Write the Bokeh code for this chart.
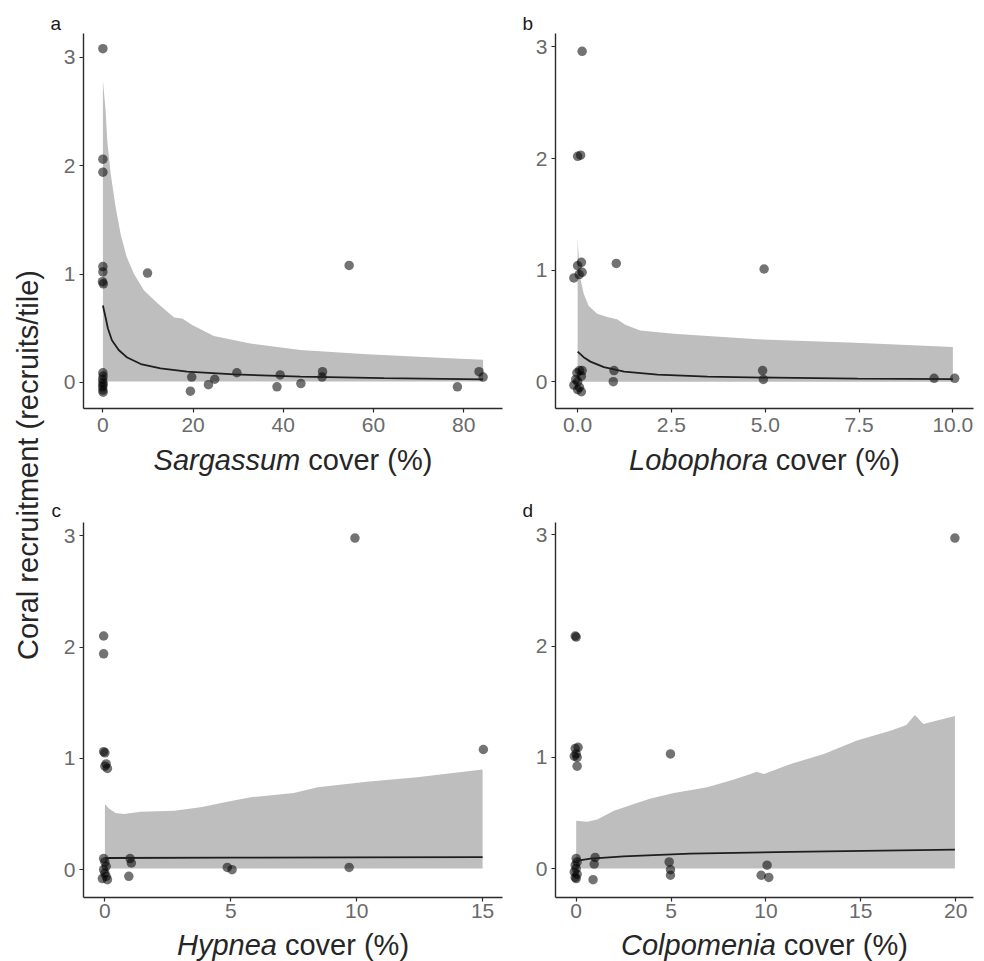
import math
from bokeh.plotting import figure
from bokeh.models import Label, FixedTicker, NumeralTickFormatter
from bokeh.layouts import row, column
from bokeh.embed import file_html
from bokeh.resources import INLINE

FONT = "Liberation Sans"

# ---------------- data ----------------
# (a) Sargassum
sarg_x = [0.0, 0.0, 0.0, 0.0, 0.0, -0.1, 0.1,
          0.0, 0.05, -0.05, 0.0, 0.05, -0.05, 0.0, 0.05,
          9.9, 54.6, 19.7, 19.4, 23.4, 24.8, 29.7, 39.3, 38.6, 43.9, 48.7, 48.6, 78.6, 83.4, 84.3]
sarg_y = [3.08, 2.06, 1.94, 1.07, 1.02, 0.93, 0.91,
          0.09, 0.06, 0.03, 0.0, -0.02, -0.04, -0.07, -0.09,
          1.01, 1.08, 0.05, -0.08, -0.02, 0.03, 0.09, 0.07, -0.04, -0.01, 0.10, 0.05, -0.04, 0.10, 0.05]
sarg_rib_x = [0.0, 0.6, 0.97, 1.71, 2.82, 3.93, 5.26, 6.89, 9.1, 12.1, 15.8, 17.6, 19.8, 24.6, 32.7, 43.8, 58.6, 73.4, 84.3]
sarg_rib_hi = [2.79, 2.51, 2.23, 1.93, 1.62, 1.37, 1.16, 1.00, 0.85, 0.73, 0.60, 0.59, 0.53, 0.43, 0.36, 0.30, 0.26, 0.23, 0.21]
sarg_rib_lo = [0.01] * len(sarg_rib_x)
sarg_fit_x = [0.0, 0.6, 1.1, 2.0, 3.5, 5.4, 8.4, 12.8, 18.7, 29.1, 43.8, 62.3, 84.3]
sarg_fit_y = [0.71, 0.60, 0.50, 0.39, 0.30, 0.23, 0.17, 0.13, 0.10, 0.074, 0.055, 0.04, 0.028]

# (b) Lobophora
lobo_x = [0.12, 0.0, 0.08, -0.1, 0.0, 0.1, 0.04, 0.12,
          0.05, 0.12, -0.02, 0.1, -0.05, 0.0, -0.1, 0.05, 0.1, 0.0,
          1.03, 0.97, 0.95, 4.97, 4.93, 4.95, 9.5, 10.05]
lobo_y = [2.96, 2.02, 2.03, 0.93, 1.04, 1.07, 0.96, 0.98,
          0.10, 0.10, 0.08, 0.05, 0.02, 0.0, -0.03, -0.05, -0.09, -0.07,
          1.06, 0.10, 0.0, 1.01, 0.10, 0.02, 0.03, 0.03]
lobo_rib_x = [0.0, 0.036, 0.07, 0.16, 0.29, 0.52, 0.79, 1.05, 1.27, 1.67, 2.56, 4.8, 7.4, 10.0]
lobo_rib_hi = [1.28, 1.08, 0.93, 0.79, 0.68, 0.61, 0.58, 0.56, 0.51, 0.46, 0.43, 0.38, 0.35, 0.31]
lobo_rib_lo = [0.0] * len(lobo_rib_x)
lobo_fit_x = [0.0, 0.16, 0.34, 0.7, 1.24, 2.13, 3.46, 5.24, 7.46, 10.0]
lobo_fit_y = [0.27, 0.22, 0.18, 0.13, 0.09, 0.063, 0.045, 0.036, 0.027, 0.024]

# (c) Hypnea
hyp_x = [9.93, -0.05, -0.05, -0.05, 0.0, 0.05, 0.0, 0.1,
         -0.05, 0.0, 0.05, -0.05, 0.0, 0.05, -0.1, 0.1,
         1.0, 1.05, 0.95, 4.86, 5.05, 9.7, 15.03]
hyp_y = [2.98, 2.10, 1.94, 1.06, 1.05, 0.95, 0.93, 0.91,
         0.10, 0.07, 0.03, 0.0, -0.03, -0.06, -0.08, -0.09,
         0.10, 0.06, -0.06, 0.02, 0.0, 0.02, 1.08]
hyp_rib_x = [0.0, 0.16, 0.42, 0.76, 1.42, 2.75, 3.8, 4.86, 5.79, 7.5, 8.45, 10.4, 12.4, 15.0]
hyp_rib_hi = [0.59, 0.55, 0.51, 0.50, 0.52, 0.53, 0.56, 0.61, 0.65, 0.69, 0.74, 0.79, 0.83, 0.90]
hyp_rib_lo = [0.01] * len(hyp_rib_x)
hyp_fit_x = [0.0, 5.0, 10.0, 15.0]
hyp_fit_y = [0.105, 0.108, 0.110, 0.113]

# (d) Colpomenia
colp_x = [19.96, -0.05, 0.0, -0.05, 0.1, 0.0, -0.1, 0.05, 0.05,
          0.0, 0.05, -0.05, 0.0, -0.1, 0.05, -0.05, 0.0,
          1.0, 0.95, 0.89, 4.9, 4.97, 4.97, 10.06, 9.75, 10.15, 4.97]
colp_y = [2.97, 2.09, 2.08, 1.08, 1.09, 1.03, 1.01, 1.0, 0.92,
          0.09, 0.06, 0.03, 0.0, -0.03, -0.05, -0.08, -0.09,
          0.10, 0.04, -0.10, 0.06, -0.01, -0.06, 0.03, -0.06, -0.08, 1.03]
colp_rib_x = [0.0, 0.58, 1.11, 1.99, 3.04, 3.92, 5.15, 6.9, 8.1, 9.2, 9.5, 9.9, 11.3, 13.05, 14.8, 16.6, 17.4, 17.85, 18.3, 19.96]
colp_rib_hi = [0.43, 0.42, 0.44, 0.52, 0.58, 0.63, 0.68, 0.73, 0.79, 0.85, 0.87, 0.85, 0.94, 1.03, 1.15, 1.24, 1.29, 1.38, 1.30, 1.37]
colp_rib_lo = [0.0] * len(colp_rib_x)
colp_fit_x = [0.0, 0.76, 2.5, 6.0, 11.3, 19.96]
colp_fit_y = [0.07, 0.09, 0.11, 0.135, 0.15, 0.17]

y_ticks = [0, 1, 2, 3]
sarg_ticks = [0, 20, 40, 60, 80]
lobo_ticks = [0, 2.5, 5, 7.5, 10]
hyp_ticks = [0, 5, 10, 15]
colp_ticks = [0, 5, 10, 15, 20]

genera = ["Sargassum", "Lobophora", "Hypnea", "Colpomenia"]
letters = ["a", "b", "c", "d"]
y_title = "Coral recruitment (recruits/tile)"

# ---------------- layout constants (pixels) ----------------
LEFT_W = 48                      # column holding the shared y title
W_L, BL_L, BR_L = 472, 35, 18    # left-column panels
W_R, BL_R, BR_R = 456, 35, 3     # right-column panels
FRAME_H = 375
AXIS_B1, STANDOFF1 = 34, 5       # bottom border holding x tick labels, row 1
AXIS_B2, STANDOFF2 = 31, 2       # same, row 2
TOP_H, MID_H, BOT_H = 33, 80, 33
STRIP_W = W_L + W_R
TOTAL_H = TOP_H + FRAME_H + AXIS_B1 + MID_H + FRAME_H + AXIS_B2 + BOT_H

TITLE_SIZE = 29
TICK_SIZE = 21
AX_COL = "#2b2b2b"
TXT_COL = "#262626"

CW = {'S': .667, 'a': .556, 'r': .333, 'g': .556, 's': .5, 'u': .556, 'm': .833, 'L': .556,
      'o': .556, 'b': .556, 'p': .556, 'h': .556, 'H': .722, 'y': .5, 'n': .556, 'e': .556,
      'C': .722, 'l': .222, 'i': .222, ' ': .278, 'c': .5, 'v': .5, '(': .333, '%': .889, ')': .333}


def tw(s, size):
    return sum(CW.get(ch, 0.556) for ch in s) * size


def panel(xs, ys, rx, rlo, rhi, fx, fy, xr, yr, xticks, width, bl, br, axis_b, standoff, fmt=None):
    p = figure(width=width, height=FRAME_H + axis_b, x_range=xr, y_range=yr,
               output_backend="svg", toolbar_location=None,
               min_border_left=bl, min_border_right=br, min_border_top=0, min_border_bottom=axis_b)
    p.outline_line_color = None
    p.grid.visible = False
    for ax, ticks in ((p.xaxis[0], xticks), (p.yaxis[0], y_ticks)):
        ax.ticker = FixedTicker(ticks=ticks, minor_ticks=[])
        ax.axis_line_color = AX_COL
        ax.axis_line_width = 1.4
        ax.major_tick_line_color = AX_COL
        ax.major_tick_line_width = 1.2
        ax.major_tick_out = 4
        ax.major_tick_in = 0
        ax.minor_tick_line_color = None
        ax.major_label_text_font = FONT
        ax.major_label_text_font_size = f"{TICK_SIZE}px"
        ax.major_label_text_color = "#6a6a6a"
    p.xaxis.major_label_standoff = standoff
    p.yaxis.major_label_standoff = 4
    if fmt:
        p.xaxis.formatter = NumeralTickFormatter(format=fmt)
    p.varea(x=rx, y1=rlo, y2=rhi, fill_color="#bebebe", fill_alpha=1.0)
    p.scatter(xs, ys, size=9.5, fill_color="black", fill_alpha=0.55, line_color=None)
    p.line(fx, fy, line_color="#1e1e1e", line_width=1.8)
    return p


def strip(height):
    s = figure(width=STRIP_W, height=height, x_range=(0, STRIP_W), y_range=(0, height),
               x_axis_type=None, y_axis_type=None, output_backend="svg",
               toolbar_location=None, min_border=0)
    s.outline_line_color = None
    s.grid.visible = False
    return s


# centres of the panel frames inside a strip
CX = [BL_L + (W_L - BL_L - BR_L) / 2, W_L + BL_R + (W_R - BL_R - BR_R) / 2]
LETTER_X = [BL_L - 33, W_L + BL_R - 33]


def add_xtitle(s, genus, cx, mid_y):
    total = tw(genus + " cover (%)", TITLE_SIZE)
    split = cx - total / 2 + tw(genus, TITLE_SIZE)
    s.add_layout(Label(x=split, y=mid_y, text=genus, text_font=FONT,
                       text_font_size=f"{TITLE_SIZE}px", text_font_style="italic",
                       text_color=TXT_COL, text_align="right", text_baseline="middle"))
    s.add_layout(Label(x=split + tw(" ", TITLE_SIZE), y=mid_y, text="cover (%)", text_font=FONT,
                       text_font_size=f"{TITLE_SIZE}px", text_color=TXT_COL,
                       text_align="left", text_baseline="middle"))


def add_letter(s, letter, x, mid_y):
    s.add_layout(Label(x=x, y=mid_y, text=letter, text_font=FONT, text_font_size="19px",
                       text_color="#1a1a1a", text_align="left", text_baseline="middle"))


pa = panel(sarg_x, sarg_y, sarg_rib_x, sarg_rib_lo, sarg_rib_hi, sarg_fit_x, sarg_fit_y,
           (-4.3, 88.6), (-0.24, 3.22), sarg_ticks, W_L, BL_L, BR_L, AXIS_B1, STANDOFF1)
pb = panel(lobo_x, lobo_y, lobo_rib_x, lobo_rib_lo, lobo_rib_hi, lobo_fit_x, lobo_fit_y,
           (-0.59, 10.55), (-0.24, 3.12), lobo_ticks, W_R, BL_R, BR_R, AXIS_B1, STANDOFF1, fmt="0.0")
pc = panel(hyp_x, hyp_y, hyp_rib_x, hyp_rib_lo, hyp_rib_hi, hyp_fit_x, hyp_fit_y,
           (-0.85, 15.79), (-0.25, 3.12), hyp_ticks, W_L, BL_L, BR_L, AXIS_B2, STANDOFF2)
pd = panel(colp_x, colp_y, colp_rib_x, colp_rib_lo, colp_rib_hi, colp_fit_x, colp_fit_y,
           (-1.09, 20.94), (-0.26, 3.11), colp_ticks, W_R, BL_R, BR_R, AXIS_B2, STANDOFF2)

s_top = strip(TOP_H)
add_letter(s_top, letters[0], LETTER_X[0], 10)
add_letter(s_top, letters[1], LETTER_X[1], 10)

s_mid = strip(MID_H)
add_xtitle(s_mid, genera[0], CX[0], 63)
add_xtitle(s_mid, genera[1], CX[1], 63)
add_letter(s_mid, letters[2], LETTER_X[0] + 1, 12)
add_letter(s_mid, letters[3], LETTER_X[1], 12)

s_bot = strip(BOT_H)
add_xtitle(s_bot, genera[2], CX[0], 16.5)
add_xtitle(s_bot, genera[3], CX[1], 16.5)

# shared y-axis title
py = figure(width=LEFT_W, height=TOTAL_H, x_range=(0, LEFT_W), y_range=(0, TOTAL_H),
            x_axis_type=None, y_axis_type=None, output_backend="svg", toolbar_location=None,
            min_border=0)
py.outline_line_color = None
py.grid.visible = False
py.add_layout(Label(x=27, y=TOTAL_H - 464.5, text=y_title, angle=math.pi / 2,
                    text_font=FONT, text_font_size=f"{TITLE_SIZE}px", text_color=TXT_COL,
                    text_align="center", text_baseline="middle"))

layout = row(py, column(s_top, row(pa, pb), s_mid, row(pc, pd), s_bot))
open("out.html", "w").write(file_html(layout, INLINE))
